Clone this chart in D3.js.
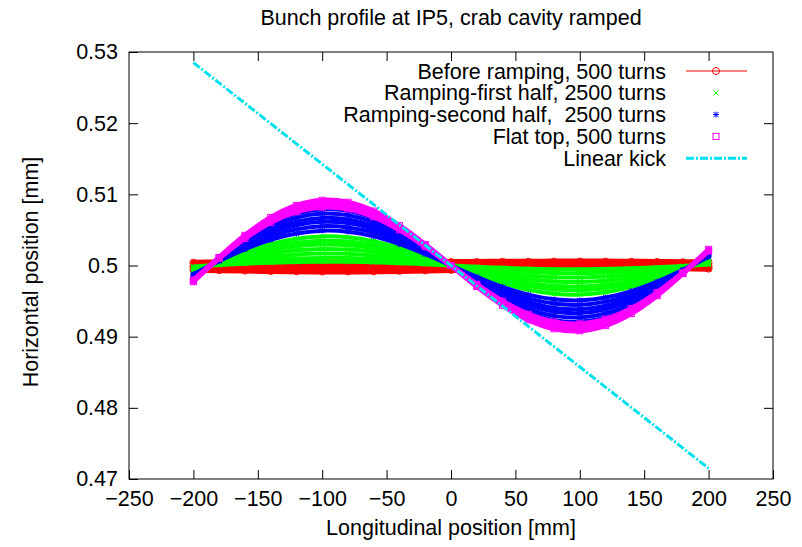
<!DOCTYPE html>
<html>
<head>
<meta charset="utf-8">
<script src="https://cdn.jsdelivr.net/npm/d3@7"></script>
<style>
  body { margin: 0; background: #fff; }
  text { font-family: "Liberation Sans", Arial, Helvetica, sans-serif; fill: #000; }
</style>
</head>
<body>
<div id="chart"></div>
<script>
// longitudinal positions of the sampled slices [mm]
var zPos = [-200, -180, -160, -140, -120, -100, -80, -60, -40, -20, 0,
            20, 40, 60, 80, 100, 120, 140, 160, 180, 200];

// horizontal position [mm], one row per recorded turn
var beforeRamping = [
  [0.50040, 0.50042, 0.50041, 0.50043, 0.50044, 0.50043, 0.50045, 0.50046, 0.50045, 0.50047, 0.50048, 0.50050, 0.50052, 0.50053, 0.50055, 0.50056, 0.50055, 0.50053, 0.50050, 0.50046, 0.50042],
  [0.49985, 0.49984, 0.49983, 0.49982, 0.49981, 0.49980, 0.49981, 0.49982, 0.49984, 0.49986, 0.49990, 0.49993, 0.49996, 0.49998, 0.50000, 0.50001, 0.50000, 0.49999, 0.49997, 0.49995, 0.49993],
  [0.49940, 0.49935, 0.49928, 0.49922, 0.49918, 0.49915, 0.49916, 0.49919, 0.49924, 0.49930, 0.49938, 0.49946, 0.49952, 0.49958, 0.49962, 0.49965, 0.49966, 0.49966, 0.49964, 0.49960, 0.49956]
];

var rampingFirst = [
  [0.49987, 0.50007, 0.50025, 0.50039, 0.50049, 0.50053, 0.50052, 0.50045, 0.50033, 0.50017, 0.5, 0.49983, 0.49967, 0.49955, 0.49948, 0.49947, 0.49951, 0.49961, 0.49975, 0.49993, 0.50013],
  [0.49974, 0.50013, 0.50049, 0.50079, 0.50098, 0.50107, 0.50104, 0.50089, 0.50065, 0.50034, 0.5, 0.49966, 0.49935, 0.49911, 0.49896, 0.49893, 0.49902, 0.49921, 0.49951, 0.49987, 0.50026],
  [0.49958, 0.50021, 0.50078, 0.50124, 0.50156, 0.50169, 0.50164, 0.50141, 0.50103, 0.50055, 0.5, 0.49945, 0.49897, 0.49859, 0.49836, 0.49831, 0.49844, 0.49876, 0.49922, 0.49979, 0.50042],
  [0.49943, 0.50029, 0.50107, 0.50170, 0.50213, 0.50231, 0.50224, 0.50193, 0.50141, 0.50075, 0.5, 0.49925, 0.49859, 0.49807, 0.49776, 0.49769, 0.49787, 0.49830, 0.49893, 0.49971, 0.50057],
  [0.49927, 0.50037, 0.50136, 0.50216, 0.50270, 0.50294, 0.50285, 0.50245, 0.50180, 0.50095, 0.5, 0.49905, 0.49820, 0.49755, 0.49715, 0.49706, 0.49730, 0.49784, 0.49864, 0.49963, 0.50073],
  [0.49914, 0.50043, 0.50161, 0.50256, 0.50319, 0.50347, 0.50337, 0.50290, 0.50212, 0.50112, 0.5, 0.49888, 0.49788, 0.49710, 0.49663, 0.49653, 0.49681, 0.49744, 0.49839, 0.49957, 0.50086],
  [0.49899, 0.50051, 0.50190, 0.50301, 0.50377, 0.50409, 0.50397, 0.50342, 0.50250, 0.50132, 0.5, 0.49868, 0.49750, 0.49658, 0.49603, 0.49591, 0.49623, 0.49699, 0.49810, 0.49949, 0.50101]
];

var rampingSecond = [
  [0.49879, 0.50061, 0.50227, 0.50360, 0.50450, 0.50490, 0.50475, 0.50409, 0.50299, 0.50158, 0.5, 0.49842, 0.49701, 0.49591, 0.49525, 0.49510, 0.49550, 0.49640, 0.49773, 0.49939, 0.50121],
  [0.49864, 0.50069, 0.50255, 0.50406, 0.50508, 0.50552, 0.50535, 0.50461, 0.50337, 0.50178, 0.5, 0.49822, 0.49663, 0.49539, 0.49465, 0.49448, 0.49492, 0.49594, 0.49745, 0.49931, 0.50136],
  [0.49848, 0.50077, 0.50284, 0.50452, 0.50565, 0.50614, 0.50596, 0.50513, 0.50375, 0.50198, 0.5, 0.49802, 0.49625, 0.49487, 0.49404, 0.49386, 0.49435, 0.49548, 0.49716, 0.49923, 0.50152],
  [0.49835, 0.50083, 0.50309, 0.50491, 0.50614, 0.50668, 0.50647, 0.50557, 0.50408, 0.50215, 0.5, 0.49785, 0.49592, 0.49443, 0.49353, 0.49332, 0.49386, 0.49509, 0.49691, 0.49917, 0.50165],
  [0.49820, 0.50091, 0.50338, 0.50537, 0.50672, 0.50730, 0.50708, 0.50609, 0.50446, 0.50235, 0.5, 0.49765, 0.49554, 0.49391, 0.49292, 0.49270, 0.49328, 0.49463, 0.49662, 0.49909, 0.50180],
  [0.49804, 0.50099, 0.50367, 0.50583, 0.50729, 0.50792, 0.50768, 0.50661, 0.50484, 0.50255, 0.5, 0.49745, 0.49516, 0.49339, 0.49232, 0.49208, 0.49271, 0.49417, 0.49633, 0.49901, 0.50196]
];

var flatTop = [
  [0.49798, 0.50102, 0.50379, 0.50603, 0.50753, 0.50819, 0.50794, 0.50684, 0.50500, 0.50264, 0.5, 0.49736, 0.49500, 0.49316, 0.49206, 0.49181, 0.49247, 0.49397, 0.49621, 0.49898, 0.50202],
  [0.49784, 0.50109, 0.50404, 0.50642, 0.50803, 0.50872, 0.50846, 0.50728, 0.50533, 0.50281, 0.5, 0.49719, 0.49467, 0.49272, 0.49154, 0.49128, 0.49197, 0.49358, 0.49596, 0.49891, 0.50216],
  [0.49773, 0.50114, 0.50424, 0.50675, 0.50844, 0.50917, 0.50889, 0.50765, 0.50560, 0.50296, 0.5, 0.49704, 0.49440, 0.49235, 0.49111, 0.49083, 0.49156, 0.49325, 0.49576, 0.49886, 0.50227]
];

var kickZ = [-200, 200];
var kickX = [0.5285, 0.4715];

var xTicks = [-250, -200, -150, -100, -50, 0, 50, 100, 150, 200, 250];
var yTicks = [0.47, 0.48, 0.49, 0.5, 0.51, 0.52, 0.53];

var legendLabels = ["Before ramping, 500 turns", "Ramping-first half, 2500 turns",
                    "Ramping-second half,  2500 turns", "Flat top, 500 turns", "Linear kick"];

var width = 802, height = 547;
var margin = {top: 52, right: 29, bottom: 68, left: 129};
var chartW = width - margin.left - margin.right,
    chartH = height - margin.top - margin.bottom;
var fontSize = 21.5, tickLen = 9;

var svg = d3.select('#chart').append('svg')
    .attr('width', width)
    .attr('height', height);

var x = d3.scaleLinear().domain([-250, 250]).range([0, chartW]);
var y = d3.scaleLinear().domain([0.47, 0.53]).range([chartH, 0]);

var g = svg.append('g')
    .attr('transform', 'translate(' + margin.left + ',' + margin.top + ')');

// axes, gnuplot style: ticks pointing inward on all four sides
function styleAxis(sel) {
  sel.select('.domain').remove();
  sel.selectAll('.tick line').attr('stroke', '#000').attr('stroke-width', 1);
  sel.selectAll('.tick text').style('font-size', fontSize + 'px').attr('fill', '#000');
}
g.append('g').attr('transform', 'translate(0,' + chartH + ')')
  .call(d3.axisBottom(x).tickValues(xTicks).tickSizeInner(-tickLen).tickSizeOuter(0).tickPadding(12))
  .call(styleAxis);
g.append('g')
  .call(d3.axisTop(x).tickValues(xTicks.slice(1, -1)).tickSizeInner(-tickLen).tickSizeOuter(0).tickFormat(''))
  .call(styleAxis);
g.append('g')
  .call(d3.axisLeft(y).tickValues(yTicks).tickSizeInner(-tickLen).tickSizeOuter(0).tickPadding(11)
    .tickFormat(function(d) { return String(+d.toFixed(2)); }))
  .call(styleAxis);
g.append('g').attr('transform', 'translate(' + chartW + ',0)')
  .call(d3.axisRight(y).tickValues(yTicks.slice(1, -1)).tickSizeInner(-tickLen).tickSizeOuter(0).tickFormat(''))
  .call(styleAxis);

g.append('rect')
  .attr('width', chartW).attr('height', chartH)
  .attr('fill', 'none').attr('stroke', '#000').attr('stroke-width', 1);

// marker shapes
function drawMarker(sel, kind, color) {
  if (kind === 'circle') {
    sel.append('circle').attr('r', 3.5).attr('fill', 'none').attr('stroke', color);
  } else if (kind === 'square') {
    sel.append('rect').attr('x', -3).attr('y', -3).attr('width', 6).attr('height', 6)
      .attr('fill', 'none').attr('stroke', color);
  } else if (kind === 'cross') {
    sel.append('path').attr('d', 'M-2.5,-2.5L2.5,2.5M-2.5,2.5L2.5,-2.5').attr('stroke', color);
  } else {
    sel.append('path').attr('d', 'M-2.5,-2.5L2.5,2.5M-2.5,2.5L2.5,-2.5M0,-3L0,3M-3,0L3,0').attr('stroke', color);
  }
}

var series = [
  {rows: beforeRamping, color: '#ff0000', marker: 'circle', band: 6},
  {rows: rampingFirst, color: '#00ff00', marker: 'cross', band: 4},
  {rows: rampingSecond, color: '#0000ff', marker: 'star', band: 4},
  {rows: flatTop, color: '#ff00ff', marker: 'square', band: 5}
];

var line = d3.line()
    .x(function(d) { return x(d[0]); })
    .y(function(d) { return y(d[1]); })
    .curve(d3.curveCatmullRom);

series.forEach(function(s) {
  var sg = g.append('g');
  s.rows.forEach(function(row) {
    var pts = row.map(function(v, i) { return [zPos[i], v]; });
    sg.append('path')
      .attr('d', line(pts))
      .attr('fill', 'none')
      .attr('stroke', s.color)
      .attr('stroke-width', s.band)
      .attr('stroke-linecap', 'round');
    sg.selectAll(null).data(pts).enter().append('g')
      .attr('transform', function(d) { return 'translate(' + x(d[0]) + ',' + y(d[1]) + ')'; })
      .each(function() { drawMarker(d3.select(this), s.marker, s.color); });
  });
});

// linear kick
g.append('path')
  .datum(kickZ.map(function(z, i) { return [z, kickX[i]]; }))
  .attr('d', d3.line().x(function(d) { return x(d[0]); }).y(function(d) { return y(d[1]); }))
  .attr('fill', 'none')
  .attr('stroke', '#00e0ee')
  .attr('stroke-width', 3)
  .attr('stroke-dasharray', '8,2,2,2');

// legend
var legend = svg.append('g').attr('transform', 'translate(666,71)');
var legendKinds = ['circle', 'cross', 'star', 'square', 'kick'];
var legendColors = ['#ff0000', '#00ff00', '#0000ff', '#ff00ff', '#00e0ee'];
legendLabels.forEach(function(lbl, i) {
  var row = legend.append('g').attr('transform', 'translate(0,' + (i * 21.8) + ')');
  row.append('text')
    .attr('text-anchor', 'end')
    .attr('dy', '0.35em')
    .style('font-size', fontSize + 'px')
    .style('white-space', 'pre')
    .text(lbl);
  if (i === 0) {
    row.append('line').attr('x1', 20).attr('x2', 81).attr('stroke', legendColors[i]);
  }
  if (legendKinds[i] === 'kick') {
    row.append('line').attr('x1', 20).attr('x2', 81)
      .attr('stroke', legendColors[i]).attr('stroke-width', 3).attr('stroke-dasharray', '8,2,2,2');
  } else {
    var m = row.append('g').attr('transform', 'translate(50,0)');
    drawMarker(m, legendKinds[i], legendColors[i]);
  }
});

// titles
svg.append('text')
  .attr('x', margin.left + chartW / 2).attr('y', 25)
  .attr('text-anchor', 'middle')
  .style('font-size', fontSize + 'px')
  .text('Bunch profile at IP5, crab cavity ramped');

svg.append('text')
  .attr('x', margin.left + chartW / 2).attr('y', 535)
  .attr('text-anchor', 'middle')
  .style('font-size', fontSize + 'px')
  .text('Longitudinal position [mm]');

svg.append('text')
  .attr('transform', 'translate(38,272) rotate(-90)')
  .attr('text-anchor', 'middle')
  .style('font-size', fontSize + 'px')
  .text('Horizontal position [mm]');
</script>
</body>
</html>
